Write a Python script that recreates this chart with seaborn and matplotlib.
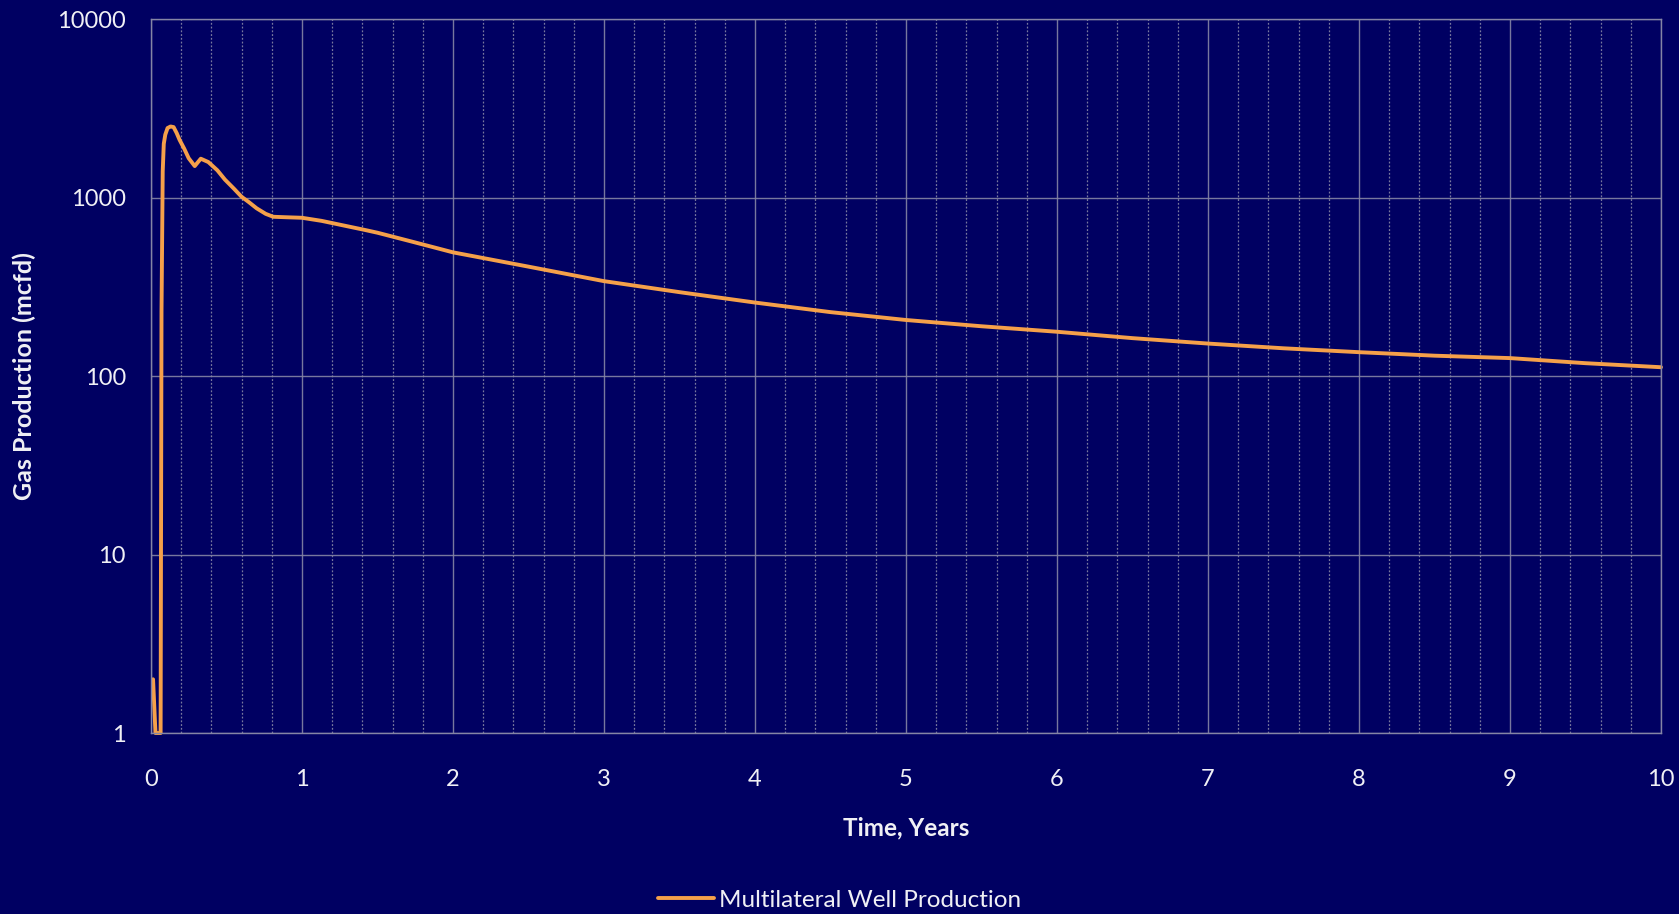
import matplotlib
matplotlib.use('Agg')
import matplotlib.pyplot as plt
import seaborn as sns
import pandas as pd
from matplotlib.ticker import MultipleLocator, FixedLocator

# Valores (anos, mcfd)
years = [0.014, 0.03, 0.064, 0.07, 0.078, 0.085, 0.095, 0.11, 0.13, 0.15, 0.17,
         0.19, 0.22, 0.25, 0.29, 0.33, 0.38, 0.44, 0.49, 0.55, 0.60, 0.65, 0.70,
         0.76, 0.81, 0.90, 1.0, 1.13, 1.41, 1.5, 1.75, 2.0, 2.5, 3.0, 3.5, 4.0,
         4.5, 5.0, 5.5, 6.0, 6.5, 7.0, 7.5, 8.0, 8.5, 9.0, 9.5, 10.0]
gas_mcfd = [2.0, 1.0, 1.0, 230, 1400, 2000, 2250, 2450, 2500, 2480, 2300,
            2100, 1880, 1660, 1500, 1650, 1580, 1420, 1260, 1120, 1010, 940, 870,
            810, 780, 775, 770, 740, 660, 635, 560, 493, 410, 340, 295, 258,
            228, 206, 190, 177, 163, 152, 143, 136, 130, 126, 118, 112]
series_name = "Multilateral Well Production"

bg = '#000062'
grid_col = '#8585a5'
txt = '#f0f0f5'
line_col = '#f5a04a'

sns.set_style("dark")
plt.rcParams['font.family'] = ['Lato', 'DejaVu Sans']

df = pd.DataFrame({'years': years, 'gas': gas_mcfd, 'serie': series_name})

fig = plt.figure(figsize=(16.79, 9.14), dpi=100, facecolor=bg)
ax = fig.add_axes([0.0899, 0.198, 0.8994, 0.7812])
ax.set_facecolor(bg)

sns.lineplot(data=df, x='years', y='gas', hue='serie', palette=[line_col],
             estimator=None, sort=False, linewidth=2.8, ax=ax, clip_on=False)

ax.set_yscale('log')
ax.set_xlim(0, 10)
ax.set_ylim(1, 10000)
ax.set_yticks([1, 10, 100, 1000, 10000])
ax.set_yticklabels(['1', '10', '100', '1000', '10000'])
ax.yaxis.set_minor_locator(FixedLocator([]))
ax.xaxis.set_major_locator(MultipleLocator(1))
ax.xaxis.set_minor_locator(MultipleLocator(0.2))

ax.grid(which='major', axis='both', color=grid_col, linestyle='-', linewidth=1.0, alpha=0.9)
ax.grid(which='minor', axis='x', color=grid_col, linestyle=(0, (1.5, 1.5)), linewidth=0.9, alpha=0.9)
ax.set_axisbelow(True)
for s in ax.spines.values():
    s.set_visible(True)
    s.set_color(grid_col)
    s.set_linewidth(1.0)

ax.tick_params(axis='both', which='both', length=0, colors=txt, labelsize=17)
ax.tick_params(axis='x', pad=26)
ax.tick_params(axis='y', pad=18)

ax.set_xlabel('Time, Years', fontsize=17.5, fontweight='bold', color=txt)
ax.set_ylabel('Gas Production (mcfd)', fontsize=18, fontweight='bold', color=txt)
ax.xaxis.set_label_coords(0.5, -0.117)
ax.yaxis.set_label_coords(-0.076, 0.5)

leg = ax.legend(loc='center', bbox_to_anchor=(0.5, 0.015), bbox_transform=fig.transFigure,
                frameon=False, fontsize=17.5, handlelength=2.3, handletextpad=0.2)
for t in leg.get_texts():
    t.set_color(txt)

fig.savefig('out.png', dpi=100, facecolor=bg)
